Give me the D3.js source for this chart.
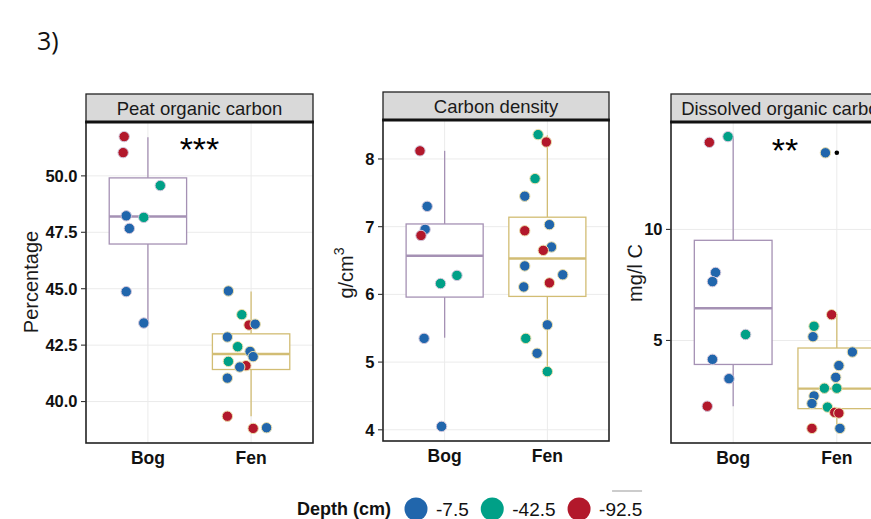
<!DOCTYPE html>
<html>
<head>
<meta charset="utf-8">
<script src="https://cdn.jsdelivr.net/npm/d3@7"></script>
<style>
  body { margin: 0; background: #fff; }
  svg  { display: block; font-family: "Liberation Sans", Arial, sans-serif; }
</style>
</head>
<body>
<svg id="chart" width="871" height="519"></svg>
<script>
// ---- data ----
const groups      = ["Bog", "Fen"];
const depthLevels = ["-7.5", "-42.5", "-92.5"];
const depthColors = ["#2166ac", "#00a087", "#b2182b"];
const groupColors = ["#a591b4", "#d2bd74"];

// panel 1: peat organic carbon (%)
const pocBog      = [51.74, 51.03, 49.57, 48.23, 48.16, 47.67, 44.87, 43.48];
const pocBogDepth = ["-92.5","-92.5","-42.5","-7.5","-42.5","-7.5","-7.5","-7.5"];
const pocBogJit   = [-0.23, -0.24, 0.12, -0.21, -0.04, -0.18, -0.21, -0.04];
const pocFen      = [44.9, 43.85, 43.39, 43.43, 42.86, 42.43, 42.22, 41.99, 41.78, 41.59, 41.53, 41.04, 39.35, 38.81, 38.84];
const pocFenDepth = ["-7.5","-42.5","-92.5","-7.5","-7.5","-42.5","-7.5","-7.5","-42.5","-92.5","-7.5","-7.5","-92.5","-92.5","-7.5"];
const pocFenJit   = [-0.22, -0.09, -0.02, 0.04, -0.23, -0.13, -0.01, 0.02, -0.22, -0.05, -0.11, -0.23, -0.23, 0.02, 0.15];
const pocBoxBog   = [43.48, 46.98, 48.2, 49.91, 51.71];   // lower whisker, Q1, median, Q3, upper whisker
const pocBoxFen   = [39.35, 41.42, 42.11, 43.0, 44.88];
const pocTicks    = [40, 42.5, 45, 47.5, 50];

// panel 2: carbon density (g/cm3)
const cdBog      = [8.12, 7.30, 6.96, 6.87, 6.28, 6.16, 5.35, 4.05];
const cdBogDepth = ["-92.5","-7.5","-7.5","-92.5","-42.5","-42.5","-7.5","-7.5"];
const cdBogJit   = [-0.24, -0.17, -0.19, -0.23, 0.12, -0.04, -0.20, -0.03];
const cdFen      = [8.36, 8.25, 7.71, 7.45, 7.03, 6.94, 6.70, 6.65, 6.42, 6.29, 6.17, 6.11, 5.55, 5.35, 5.13, 4.86];
const cdFenDepth = ["-42.5","-92.5","-42.5","-7.5","-7.5","-92.5","-7.5","-92.5","-7.5","-7.5","-92.5","-7.5","-7.5","-42.5","-7.5","-42.5"];
const cdFenJit   = [-0.09, -0.01, -0.12, -0.22, 0.02, -0.22, 0.04, -0.04, -0.22, 0.15, 0.02, -0.23, 0.0, -0.21, -0.10, 0.0];
const cdBoxBog   = [5.36, 5.96, 6.57, 7.04, 8.12];
const cdBoxFen   = [4.86, 5.97, 6.53, 7.14, 8.35];
const cdTicks    = [4, 5, 6, 7, 8];

// panel 3: dissolved organic carbon (mg/l C)
const docBog      = [13.92, 14.18, 8.06, 7.65, 5.27, 4.15, 3.28, 2.04];
const docBogDepth = ["-92.5","-42.5","-7.5","-7.5","-42.5","-7.5","-7.5","-92.5"];
const docBogJit   = [-0.23, -0.05, -0.17, -0.20, 0.12, -0.20, -0.04, -0.25];
const docFen      = [13.45, 6.16, 5.64, 5.17, 4.48, 3.87, 3.34, 2.85, 2.85, 2.50, 2.16, 2.0, 1.76, 1.73, 1.04, 1.04];
const docFenDepth = ["-7.5","-92.5","-42.5","-7.5","-7.5","-7.5","-7.5","-42.5","-42.5","-7.5","-7.5","-42.5","-92.5","-92.5","-92.5","-7.5"];
const docFenJit   = [-0.11, -0.05, -0.22, -0.23, 0.15, 0.02, -0.01, -0.12, 0.0, -0.22, -0.24, -0.09, -0.02, 0.02, -0.24, 0.03];
const docBoxBog   = [2.04, 3.92, 6.45, 9.51, 14.18];
const docBoxFen   = [1.04, 1.93, 2.83, 4.66, 6.2];
const docOutFen   = [13.45];
const docTicks    = [5, 10];

const panels = [
  { title: "Peat organic carbon", ylab: "Percentage", ticks: pocTicks, fmt: d3.format(".1f"),
    bog: [pocBog, pocBogDepth, pocBogJit], fen: [pocFen, pocFenDepth, pocFenJit],
    box: [pocBoxBog, pocBoxFen], out: [[], []], sig: "***", sigY: 51.42,
    frame: { x: 86, w: 227, st: 94, top: 122, bottom: 443 }, ylabX: 37.5, ylabY: 282 },
  { title: "Carbon density", ylab: "g/cm", sup: "3", ticks: cdTicks, fmt: d3.format("d"),
    bog: [cdBog, cdBogDepth, cdBogJit], fen: [cdFen, cdFenDepth, cdFenJit],
    box: [cdBoxBog, cdBoxFen], out: [[], []], sig: null,
    frame: { x: 383, w: 226, st: 92, top: 120, bottom: 441 }, ylabX: 353, ylabY: 273 },
  { title: "Dissolved organic carbon", ylab: "mg/l C", ticks: docTicks, fmt: d3.format("d"),
    bog: [docBog, docBogDepth, docBogJit], fen: [docFen, docFenDepth, docFenJit],
    box: [docBoxBog, docBoxFen], out: [[], docOutFen], sig: "**", sigY: 13.8,
    frame: { x: 671, w: 228, st: 94, top: 122, bottom: 443 }, ylabX: 641.5, ylabY: 273 }
];

const svg = d3.select("#chart");
const depthColor = d3.scaleOrdinal().domain(depthLevels).range(depthColors);

svg.append("text")
  .attr("x", 37).attr("y", 50)
  .attr("font-family", "'Open Sans', sans-serif")
  .attr("font-size", 25).attr("fill", "#111")
  .text("3)");

panels.forEach(p => {
  const f = p.frame;
  const g = svg.append("g");

  const allVals = [].concat(p.bog[0], p.fen[0], p.box[0], p.box[1], p.out[1]);
  const [lo, hi] = d3.extent(allVals);
  const pad = (hi - lo) * 0.05;
  const y = d3.scaleLinear().domain([lo - pad, hi + pad]).range([f.bottom, f.top]);
  const x = d3.scalePoint().domain(groups).range([f.x, f.x + f.w]).padding(0.6);
  const step = x.step();

  // grid
  g.selectAll("line.gy").data(p.ticks).enter().append("line")
    .attr("x1", f.x).attr("x2", f.x + f.w)
    .attr("y1", d => y(d)).attr("y2", d => y(d))
    .attr("stroke", "#ebebeb").attr("stroke-width", 1);
  g.selectAll("line.gx").data(groups).enter().append("line")
    .attr("x1", d => x(d)).attr("x2", d => x(d))
    .attr("y1", f.top).attr("y2", f.bottom)
    .attr("stroke", "#ebebeb").attr("stroke-width", 1);

  // boxes
  groups.forEach((grp, gi) => {
    const s = p.box[gi];
    const cx = x(grp), hw = step * 0.375;
    const col = groupColors[gi];
    const bg = g.append("g").attr("stroke", col).attr("fill", "none");
    bg.append("line").attr("x1", cx).attr("x2", cx).attr("y1", y(s[0])).attr("y2", y(s[1])).attr("stroke-width", 1.3);
    bg.append("line").attr("x1", cx).attr("x2", cx).attr("y1", y(s[3])).attr("y2", y(s[4])).attr("stroke-width", 1.3);
    bg.append("rect").attr("x", cx - hw).attr("width", 2 * hw)
      .attr("y", y(s[3])).attr("height", y(s[1]) - y(s[3]))
      .attr("fill", "white").attr("stroke-width", 1.3);
    bg.append("line").attr("x1", cx - hw).attr("x2", cx + hw)
      .attr("y1", y(s[2])).attr("y2", y(s[2])).attr("stroke-width", 2.4);
    g.selectAll(null).data(p.out[gi]).enter().append("circle")
      .attr("cx", cx).attr("cy", d => y(d)).attr("r", 2.3).attr("fill", "#000");
  });

  // jittered points
  [p.bog, p.fen].forEach((set, gi) => {
    const pts = set[0].map((v, i) => ({ v, d: set[1][i], j: set[2][i] }));
    g.selectAll(null).data(pts).enter().append("circle")
      .attr("cx", d => x(groups[gi]) + d.j * step)
      .attr("cy", d => y(d.v))
      .attr("r", 5.2)
      .attr("fill", d => depthColor(d.d))
      .attr("stroke", gi === 0 ? "#d3c8dc" : "#ece0ae")
      .attr("stroke-width", 1);
  });

  // significance stars
  if (p.sig) {
    g.append("text")
      .attr("x", f.x + f.w / 2).attr("y", y(p.sigY))
      .attr("dy", "0.5em").attr("text-anchor", "middle")
      .attr("font-size", 34).attr("fill", "#000")
      .text(p.sig);
  }

  // panel border
  g.append("rect").attr("x", f.x).attr("y", f.top).attr("width", f.w).attr("height", f.bottom - f.top)
    .attr("fill", "none").attr("stroke", "#222").attr("stroke-width", 1.6);

  // strip
  g.append("rect").attr("x", f.x).attr("y", f.st).attr("width", f.w).attr("height", f.top - f.st)
    .attr("fill", "#d9d9d9").attr("stroke", "#222").attr("stroke-width", 1.3);
  g.append("line").attr("x1", f.x - 0.8).attr("x2", f.x + f.w + 0.8).attr("y1", f.top).attr("y2", f.top)
    .attr("stroke", "#111").attr("stroke-width", 3);
  g.append("text")
    .attr("x", f.x + f.w / 2).attr("y", (f.st + f.top) / 2).attr("dy", "0.36em")
    .attr("text-anchor", "middle").attr("font-size", 18.5).attr("fill", "#1a1a1a")
    .text(p.title);

  // y axis
  const ya = g.append("g");
  ya.selectAll("line").data(p.ticks).enter().append("line")
    .attr("x1", f.x - 5).attr("x2", f.x).attr("y1", d => y(d)).attr("y2", d => y(d))
    .attr("stroke", "#333").attr("stroke-width", 1.1);
  ya.selectAll("text").data(p.ticks).enter().append("text")
    .attr("x", f.x - 8.5).attr("y", d => y(d)).attr("dy", "0.36em")
    .attr("text-anchor", "end").attr("font-weight", "bold").attr("font-size", 16.5).attr("fill", "#111")
    .text(p.fmt);

  // x axis labels
  g.selectAll("text.xl").data(groups).enter().append("text")
    .attr("x", d => x(d)).attr("y", f.bottom + 20.5)
    .attr("text-anchor", "middle").attr("font-weight", "bold").attr("font-size", 17.5).attr("fill", "#111")
    .text(d => d);

  // y title
  const yt = g.append("text")
    .attr("transform", `translate(${p.ylabX},${p.ylabY}) rotate(-90)`)
    .attr("text-anchor", "middle").attr("font-size", 20).attr("fill", "#1a1a1a")
    .text(p.ylab);
  if (p.sup) {
    yt.append("tspan").attr("font-size", 14).attr("dy", -9).text(p.sup);
  }
});

// legend
const leg = svg.append("g");
const legY = 509;
const title = leg.append("text")
  .attr("x", 297).attr("y", legY).attr("dy", "0.36em")
  .attr("font-weight", "bold").attr("font-size", 18).attr("fill", "#111")
  .text("Depth (cm)");
let cursor = 297 + title.node().getComputedTextLength() + 25;
depthLevels.forEach((lvl, i) => {
  leg.append("circle").attr("cx", cursor).attr("cy", legY).attr("r", 11.5)
    .attr("fill", depthColors[i]);
  const t = leg.append("text")
    .attr("x", cursor + 20).attr("y", legY).attr("dy", "0.36em")
    .attr("font-size", 19).attr("fill", "#111")
    .text(lvl);
  const w = t.node().getComputedTextLength();
  if (i === depthLevels.length - 1) {
    leg.append("line").attr("x1", cursor + 33).attr("x2", cursor + 63)
      .attr("y1", 491).attr("y2", 491).attr("stroke", "#999").attr("stroke-width", 1);
  }
  cursor += 20 + w + 23.5;
});
</script>
</body>
</html>
